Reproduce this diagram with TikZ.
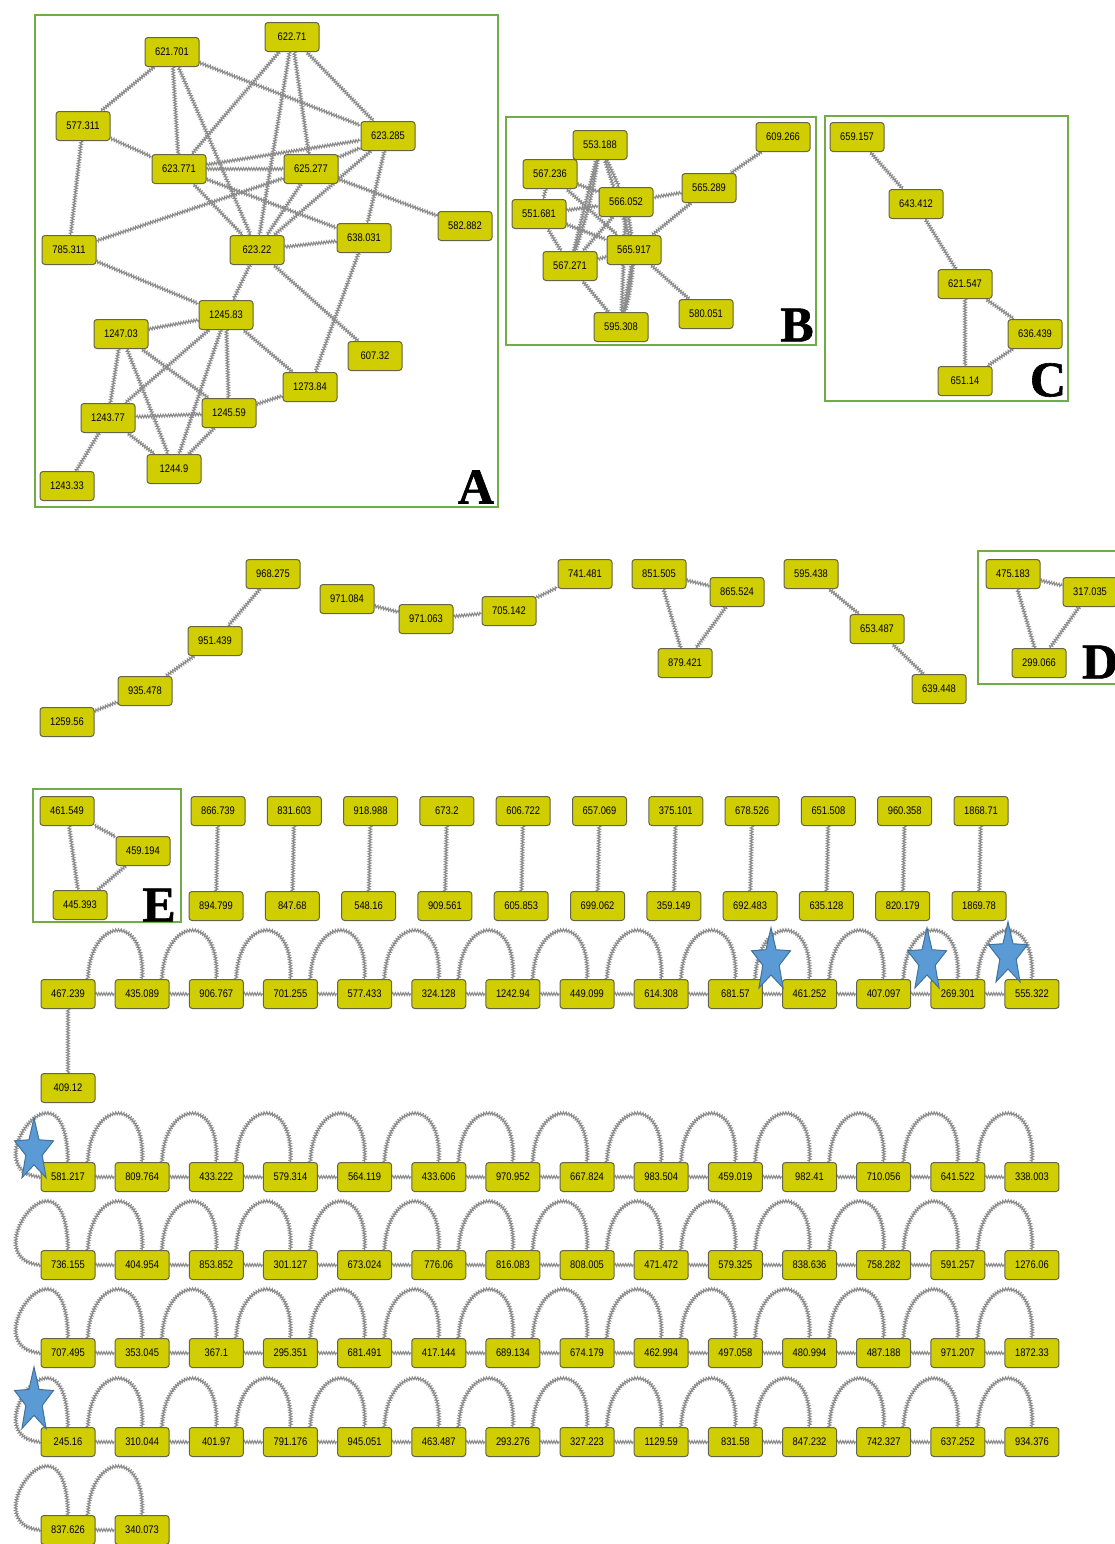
\documentclass[tikz,border=0pt]{standalone}
\usepackage{fontspec}
\setmainfont{Liberation Sans}
\newfontfamily\labfont[FakeBold=1.2]{Liberation Serif Bold}
\newfontfamily\numfont[FakeStretch=0.85]{Liberation Sans}
\usetikzlibrary{decorations.pathmorphing}
\pgfdeclarelayer{bg}
\pgfsetlayers{bg,main}
\definecolor{nodefill}{RGB}{208,205,0}
\definecolor{nodeborder}{RGB}{100,100,70}
\definecolor{boxgreen}{RGB}{112,173,71}
\definecolor{edgegray}{RGB}{140,140,140}
\definecolor{starblue}{RGB}{91,155,213}
\definecolor{staredge}{RGB}{65,113,156}
\newcommand\bluestar[4]{%
  \draw[starsty] ({#1},{#2-#4}) \foreach \a/\r in {126/0.42,162/1,198/0.42,234/1,270/0.42,306/1,342/0.42,18/1,54/0.42} { -- ({#1+#3*\r*cos(\a)},{#2-#4*\r*sin(\a)}) } -- cycle;}
\begin{document}
\begin{tikzpicture}[x=0.5pt,y=-0.5pt,
  nd/.style={draw=nodeborder, fill=nodefill, rounded corners=1.5pt, minimum width=27pt, minimum height=14.5pt, inner sep=0pt, line width=0.5pt, font=\numfont\fontsize{5.5}{5.5}\selectfont},
  ed/.style={draw=edgegray, line width=0.55pt, decorate, decoration={zigzag, amplitude=0.7pt, segment length=1.3pt}},
  grp/.style={draw=boxgreen, line width=1pt},
  lab/.style={font=\labfont\fontsize{25}{25}\selectfont, inner sep=0pt},
  starsty/.style={fill=starblue, draw=staredge, line width=0.5pt, line join=miter}
]
\useasboundingbox (0,0) rectangle (1115,1544);
\begin{pgfonlayer}{bg}
\fill[white] (0,0) rectangle (1115,1544);
\end{pgfonlayer}

% group boxes
\draw[grp] (35,15) rectangle (498,507);
\draw[grp] (506,117) rectangle (816,345);
\draw[grp] (825,116) rectangle (1068,401);
\draw[grp] (978,551) rectangle (1130,684);
\draw[grp] (33,789) rectangle (181,922);

\node[lab] (labA) at (476,487) {A};
\node[lab] (labB) at (797,325) {B};
\node[lab] (labC) at (1048,380) {C};
\node[lab] (labD) at (1100,662) {D};
\node[lab] (labE) at (159,905) {E};

% ---------- A ----------
\node[nd] (a1) at (172,52) {621.701};
\node[nd] (a2) at (292,37) {622.71};
\node[nd] (a3) at (83,126) {577.311};
\node[nd] (a4) at (388,136) {623.285};
\node[nd] (a5) at (179,169) {623.771};
\node[nd] (a6) at (311,169) {625.277};
\node[nd] (a7) at (465,226) {582.882};
\node[nd] (a8) at (69,250) {785.311};
\node[nd] (a9) at (257,250) {623.22};
\node[nd] (a10) at (364,238) {638.031};
\node[nd] (a11) at (226,315) {1245.83};
\node[nd] (a12) at (121,334) {1247.03};
\node[nd] (a13) at (375,356) {607.32};
\node[nd] (a14) at (310,387) {1273.84};
\node[nd] (a15) at (108,418) {1243.77};
\node[nd] (a16) at (229,413) {1245.59};
\node[nd] (a17) at (174,469) {1244.9};
\node[nd] (a18) at (67,486) {1243.33};

% ---------- B ----------
\node[nd] (b1) at (600,145) {553.188};
\node[nd] (b2) at (783,137) {609.266};
\node[nd] (b3) at (550,174) {567.236};
\node[nd] (b4) at (709,188) {565.289};
\node[nd] (b5) at (626,202) {566.052};
\node[nd] (b6) at (539,214) {551.681};
\node[nd] (b7) at (634,250) {565.917};
\node[nd] (b8) at (570,266) {567.271};
\node[nd] (b9) at (706,314) {580.051};
\node[nd] (b10) at (621,327) {595.308};

% ---------- C ----------
\node[nd] (c1) at (857,137) {659.157};
\node[nd] (c2) at (916,204) {643.412};
\node[nd] (c3) at (965,284) {621.547};
\node[nd] (c4) at (1035,334) {636.439};
\node[nd] (c5) at (965,381) {651.14};

% ---------- middle row ----------
\node[nd] (m1) at (273,574) {968.275};
\node[nd] (m2) at (215,641) {951.439};
\node[nd] (m3) at (145,691) {935.478};
\node[nd] (m4) at (67,722) {1259.56};
\node[nd] (m5) at (347,599) {971.084};
\node[nd] (m6) at (426,619) {971.063};
\node[nd] (m7) at (509,611) {705.142};
\node[nd] (m8) at (585,574) {741.481};
\node[nd] (m9) at (659,574) {851.505};
\node[nd] (m10) at (737,592) {865.524};
\node[nd] (m11) at (685,663) {879.421};
\node[nd] (m12) at (811,574) {595.438};
\node[nd] (m13) at (877,629) {653.487};
\node[nd] (m14) at (939,689) {639.448};
\node[nd] (d1) at (1013,574) {475.183};
\node[nd] (d2) at (1090,592) {317.035};
\node[nd] (d3) at (1039,663) {299.066};

% ---------- E and pairs ----------
\node[nd] (e1) at (67,811) {461.549};
\node[nd] (e2) at (143,851) {459.194};
\node[nd] (e3) at (80,905) {445.393};
\foreach \t/\b [count=\i from 0] in {866.739/894.799,831.603/847.68,918.988/548.16,673.2/909.561,606.722/605.853,657.069/699.062,375.101/359.149,678.526/692.483,651.508/635.128,960.358/820.179,1868.71/1869.78}{
  \node[nd] (pt\i) at ({218+76.3*\i},811) {\t};
  \node[nd] (pb\i) at ({216+76.3*\i},906) {\b};
}

% ---------- chain rows ----------
\foreach \t [count=\i from 0] in {467.239,435.089,906.767,701.255,577.433,324.128,1242.94,449.099,614.308,681.57,461.252,407.097,269.301,555.322}{
  \node[nd] (ra\i) at ({68+74.15*\i},994) {\t};}
\node[nd] (n409) at (68,1088) {409.12};
\foreach \t [count=\i from 0] in {581.217,809.764,433.222,579.314,564.119,433.606,970.952,667.824,983.504,459.019,982.41,710.056,641.522,338.003}{
  \node[nd] (rb\i) at ({68+74.15*\i},1177) {\t};}
\foreach \t [count=\i from 0] in {736.155,404.954,853.852,301.127,673.024,776.06,816.083,808.005,471.472,579.325,838.636,758.282,591.257,1276.06}{
  \node[nd] (rc\i) at ({68+74.15*\i},1265) {\t};}
\foreach \t [count=\i from 0] in {707.495,353.045,367.1,295.351,681.491,417.144,689.134,674.179,462.994,497.058,480.994,487.188,971.207,1872.33}{
  \node[nd] (rd\i) at ({68+74.15*\i},1353) {\t};}
\foreach \t [count=\i from 0] in {245.16,310.044,401.97,791.176,945.051,463.487,293.276,327.223,1129.59,831.58,847.232,742.327,637.252,934.376}{
  \node[nd] (re\i) at ({68+74.15*\i},1442) {\t};}
\node[nd] (rf0) at (68,1530) {837.626};
\node[nd] (rf1) at (142,1530) {340.073};

% ---------- edges ----------
\begin{pgfonlayer}{bg}
\foreach \u/\v in {a1/a3,a1/a5,a1/a9,a1/a4,a2/a5,a2/a9,a2/a6,a2/a4,a3/a5,a3/a8,a5/a4,a5/a6,a6/a4,a5/a10,a5/a9,a6/a8,a6/a9,a6/a7,a4/a9,a4/a10,a10/a9,a8/a11,a9/a11,a9/a13,a10/a14,a11/a12,a11/a15,a11/a17,a11/a16,a11/a14,a12/a15,a12/a17,a12/a16,a14/a16,a16/a15,a16/a17,a15/a17,a15/a18}
  {\draw[ed] (\u) -- (\v);}
\foreach \u/\v in {b2/b4,b4/b5,b4/b7,b7/b9,b7/b10,b8/b10,b1/b3,b1/b8,b1/b5,b1/b7,b3/b5,b3/b7,b3/b6,b6/b5,b6/b7,b6/b8,b5/b8,b5/b7,b8/b7,b5/b10}
  {\draw[ed] (\u) -- (\v);}
\draw[ed] (b7) to[bend left=5] (b10);
\draw[ed] (b1) to[bend left=5] (b8);
\foreach \u/\v in {c1/c2,c2/c3,c3/c4,c3/c5,c4/c5,m1/m2,m2/m3,m3/m4,m5/m6,m6/m7,m7/m8,m9/m10,m9/m11,m10/m11,m12/m13,m13/m14,d1/d2,d1/d3,d2/d3,e1/e2,e1/e3,e2/e3}
  {\draw[ed] (\u) -- (\v);}
\foreach \i in {0,...,10} {\draw[ed] (pt\i) -- (pb\i);}
\draw[ed] (ra0) -- (n409);
% chains: straight link plus arc between neighbours
\foreach \r in {ra,rb,rc,rd,re} {
  \foreach \i [remember=\i as \j (initially 0)] in {1,...,13} {
    \draw[ed] (\r\j) -- (\r\i);
    \draw[ed] (\r\j.37) .. controls +(2,-62) and +(4,-68) .. (\r\i.north);}}
\draw[ed] (rf0) -- (rf1);
\draw[ed] (rf0.37) .. controls +(2,-62) and +(4,-68) .. (rf1.north);
% curls on the first node of the lower rows
\foreach \r in {rb,rc,rd,re,rf} {
  \draw[ed] (\r0.west) .. controls +(-68,-5) and +(-2,-116) .. (\r0.north);}
\end{pgfonlayer}

% ---------- stars ----------
\bluestar{771}{961}{20.5}{33.2}
\bluestar{927}{961}{20.5}{33.2}
\bluestar{1008}{955}{20.5}{33.2}
\bluestar{34}{1151}{20.5}{33}
\bluestar{34}{1401}{20.5}{34}
\end{tikzpicture}
\end{document}
